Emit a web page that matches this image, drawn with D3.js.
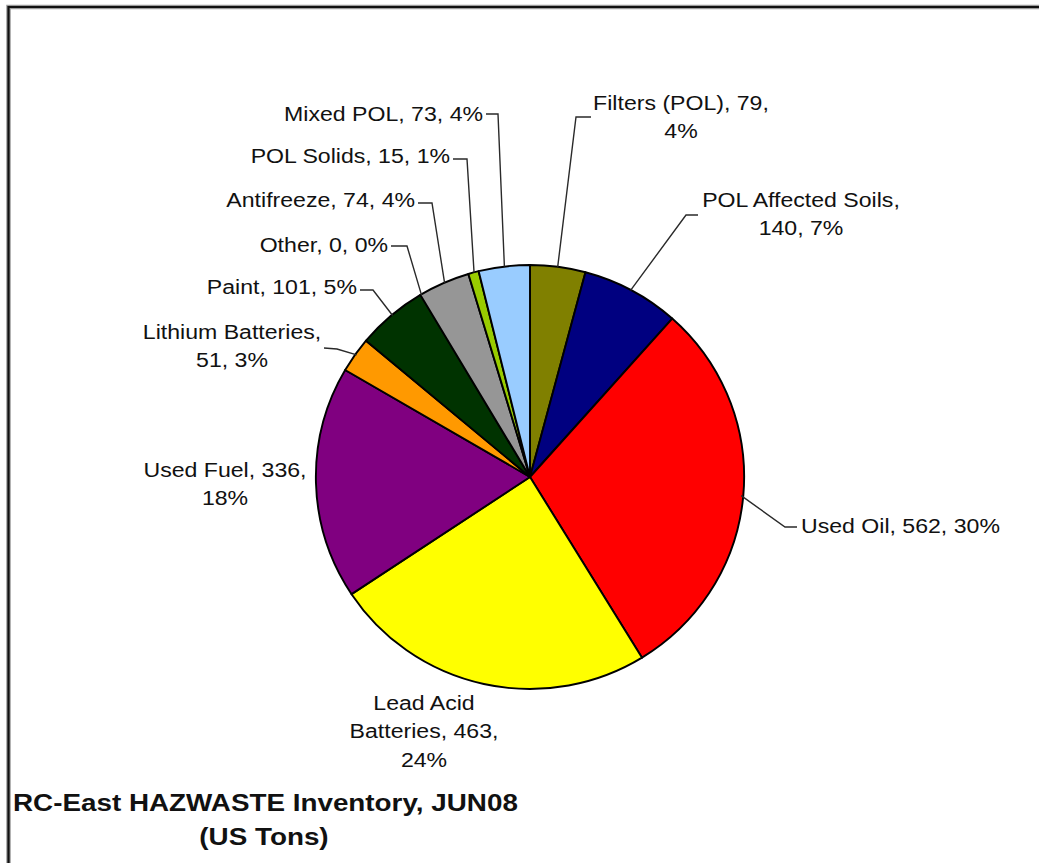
<!DOCTYPE html>
<html>
<head>
<meta charset="utf-8">
<script src="https://cdn.jsdelivr.net/npm/d3@7"></script>
<style>
  html, body { margin: 0; padding: 0; background: #fff; }
  svg { display: block; }
  text { font-family: "Liberation Sans", Arial, sans-serif; fill: #111; }
</style>
</head>
<body>
<svg id="chart" width="1039" height="863"></svg>
<script>
// ---- data ----
const categories = ["Filters (POL)", "POL Affected Soils", "Used Oil", "Lead Acid Batteries",
  "Used Fuel", "Lithium Batteries", "Paint", "Other", "Antifreeze", "POL Solids", "Mixed POL"];
const values = [79, 140, 562, 463, 336, 51, 101, 0, 74, 15, 73];
const sliceColors = ["#808000", "#000080", "#FF0000", "#FFFF00", "#800080", "#FF9900",
  "#003300", "#FFFFFF", "#969696", "#99CC00", "#99CCFF"];
const titleLines = ["RC-East HAZWASTE Inventory, JUN08", "(US Tons)"];
// tokens per line for wrapped labels (null = single line)
const wraps = [[3], [3], null, [2, 4], [3], [2], null, null, null, null, null];

// ---- layout (positions only) ----
const cx = 530, cy = 477, R = 212;
const labelLayout = [
  { x: 681, y: 110, anchor: "middle", leader: [[576, 117], [591, 117]] },
  { x: 801, y: 207, anchor: "middle", leader: [[686, 215], [698, 215]] },
  { x: 801, y: 533, anchor: "start",  leader: [[785, 527], [797, 527]] },
  { x: 424, y: 710, anchor: "middle", leader: null },
  { x: 225, y: 477, anchor: "middle", leader: null },
  { x: 232, y: 339, anchor: "middle", leader: [[337, 349], [324, 348]] },
  { x: 357, y: 294, anchor: "end",    leader: [[373, 290], [360, 290]] },
  { x: 388, y: 252, anchor: "end",    leader: [[407, 246], [391, 246]] },
  { x: 415, y: 207, anchor: "end",    leader: [[432, 203], [418, 203]] },
  { x: 450, y: 163, anchor: "end",    leader: [[467, 159], [453, 159]] },
  { x: 483, y: 121, anchor: "end",    leader: [[498, 114], [486, 114]] }
];

const svg = d3.select("#chart");

// frame
svg.append("path")
  .attr("d", "M8.5,880 L8.5,7 L1050,7")
  .attr("fill", "none").attr("stroke", "#9a9a9a").attr("stroke-width", 4.5);
svg.append("path")
  .attr("d", "M8.5,880 L8.5,7 L1050,7")
  .attr("fill", "none").attr("stroke", "#111").attr("stroke-width", 2.2);

const total = d3.sum(values);
const data = categories.map((c, i) => ({ name: c, value: values[i], color: sliceColors[i], i }));

const pie = d3.pie().value(d => d.value).sort(null);
const arcs = pie(data);
const arc = d3.arc().innerRadius(0).outerRadius(R);

const g = svg.append("g").attr("transform", `translate(${cx},${cy}) scale(1.01,1)`);

// leaders
const leaderGen = d3.line();
arcs.forEach((a, k) => {
  const L = labelLayout[k];
  if (!L.leader) return;
  const mid = (a.startAngle + a.endAngle) / 2;
  const p0 = [cx + R * Math.sin(mid), cy - R * Math.cos(mid)];
  svg.append("path")
    .attr("d", leaderGen([p0, ...L.leader]))
    .attr("fill", "none").attr("stroke", "#2a2a2a").attr("stroke-width", 1.4);
});

// slices
g.selectAll("path.slice").data(arcs.filter(a => a.data.value > 0)).enter()
  .append("path").attr("class", "slice")
  .attr("d", arc)
  .attr("fill", d => d.data.color)
  .attr("stroke", "#000").attr("stroke-width", 1.9).attr("stroke-linejoin", "round");

// labels
const fmt = d => `${d.name}, ${d.value}, ${Math.round(d.value / total * 100)}%`;
arcs.forEach((a, k) => {
  const L = labelLayout[k];
  const tokens = fmt(a.data).split(" ");
  let lines = [];
  const w = wraps[k];
  if (!w) lines = [tokens.join(" ")];
  else {
    let prev = 0;
    w.forEach(b => { lines.push(tokens.slice(prev, b).join(" ")); prev = b; });
    lines.push(tokens.slice(prev).join(" "));
  }
  const t = svg.append("text")
    .attr("transform", `translate(${L.x},${L.y}) scale(1.1,1)`)
    .attr("text-anchor", L.anchor)
    .style("font-size", "21px");
  lines.forEach((ln, j) => {
    t.append("tspan").attr("x", 0).attr("dy", j === 0 ? 0 : 28.5).text(ln);
  });
});

// title
svg.append("text")
  .attr("transform", "translate(13,811) scale(1.21,1)")
  .style("font-size", "23px").style("font-weight", "bold")
  .text(titleLines[0]);
svg.append("text")
  .attr("transform", "translate(264,845) scale(1.21,1)")
  .attr("text-anchor", "middle")
  .style("font-size", "23px").style("font-weight", "bold")
  .text(titleLines[1]);
</script>
</body>
</html>
